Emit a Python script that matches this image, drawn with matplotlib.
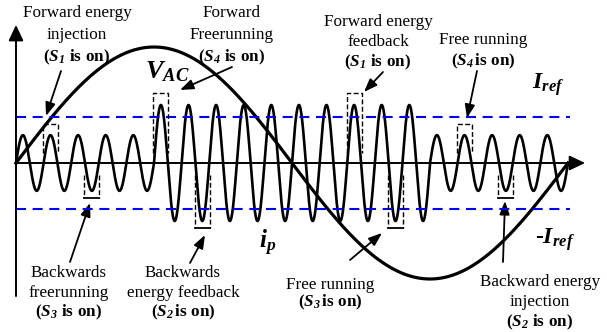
import numpy as np
import matplotlib
matplotlib.use('Agg')
import matplotlib.pyplot as plt
import matplotlib.transforms as mtransforms

plt.rcParams['mathtext.fontset'] = 'custom'
plt.rcParams['mathtext.rm'] = 'Liberation Serif:bold'
plt.rcParams['mathtext.bf'] = 'Liberation Serif:bold'
plt.rcParams['mathtext.it'] = 'Liberation Serif:italic:bold'
plt.rcParams['mathtext.bfit'] = 'Liberation Serif:italic:bold'

# Forma de onda: un periodo de red, pico de VAC = 1
vac_amp = 1.0
ip_cycles = 20            # ciclos de ip por periodo de red
ip_amp_small = 0.24
ip_amp_large = 0.50
large_window = (0.25, 0.75)   # ip grande entre el pico + y el pico - de VAC
iref = 0.40

# picos / valles de ip marcados con corchetes
peak_marks = [1, 5, 12, 16]
trough_marks = [2, 6, 13, 17]


def on_text(n, gap=True):
    sp = r'\ ' if gap else r'\,'
    return r'$\mathbf{(}\mathbfit{S}_{\mathbfit{%d}}%s\mathbf{is\ on}\mathbf{)}$' % (n, sp)


# bloques de texto: x centro (px), y de cada linea (px), lineas (la ultima en negrita)
labels = [
    (77, [13, 35, 57], ['Forward energy', 'injection', on_text(1)]),
    (232, [13, 35, 57], ['Forward', 'Freerunning', on_text(4)]),
    (378, [22, 42, 62], ['Forward energy', 'feedback', on_text(1)]),
    (483, [40, 61], ['Free running', on_text(4, False)]),
    (69, [273, 293, 312], ['Backwards', 'freerunning', on_text(3)]),
    (183, [273, 293, 312], ['Backwards', 'energy feedback', on_text(2, False)]),
    (330, [285, 302], ['Free running', on_text(3, False)]),
    (540, [282, 302, 322], ['Backward energy', 'injection', on_text(2)]),
]

# flechas: (cola, punta) en px
arrows = [((61, 71), (46, 116)), ((232, 67), (180, 90)), ((383, 72), (364, 92)),
          ((477, 71), (467, 118)), ((70, 262), (90, 203)), ((190, 263), (205, 235)),
          ((350, 260), (382, 233)), ((503, 262), (505, 201))]

fig = plt.figure(figsize=(6.07, 3.32), dpi=100)
ax = fig.add_axes([0, 0, 1, 1])
ax.axis('off')
ax.set_xlim(-16 / 552, (607 - 16) / 552)
ax.set_ylim(-(332 - 163) / 116, 163 / 116)

# coordenadas en pixeles de la imagen (origen arriba a la izquierda)
px = mtransforms.Affine2D().scale(1 / 607, -1 / 332).translate(0, 1) + fig.transFigure

t = np.linspace(0, 1, 6000)
vac = vac_amp * np.sin(2 * np.pi * t)
amp = np.where((t >= large_window[0]) & (t < large_window[1]), ip_amp_large, ip_amp_small)
ip = amp * np.sin(2 * np.pi * ip_cycles * t)

ax.plot(t, ip, color='k', lw=1.9, zorder=3)
ax.plot(t, vac, color='k', lw=2.3, zorder=4)

for level in [iref, -iref]:
    ax.plot([0, 1.004], [level, level], color='#0000ff', lw=1.5, dashes=(4.8, 3.2), zorder=5)

# corchetes
hw = 7.5 / 552
for k in peak_marks:
    tc = (k + 0.25) / ip_cycles
    a = ip_amp_large if large_window[0] <= tc < large_window[1] else ip_amp_small
    top = a + 0.1
    ax.plot([tc - hw, tc - hw, tc + hw, tc + hw], [0.09, top, top, 0.09],
            color='k', lw=1.0, dashes=(3.5, 1.8), zorder=6)
for k in trough_marks:
    tc = (k + 0.75) / ip_cycles
    a = ip_amp_large if large_window[0] <= tc < large_window[1] else ip_amp_small
    bot = -a - 0.06
    for xs in [tc - hw, tc + hw]:
        ax.plot([xs, xs], [-0.1, bot], color='k', lw=1.0, dashes=(3.5, 1.8), zorder=6)
    ax.plot([tc - hw, tc + hw], [bot, bot], color='k', lw=1.3, zorder=6)

# ejes con flecha
ax_style = dict(arrowstyle='-|>,head_length=0.95,head_width=0.45', lw=1.4, color='k',
                shrinkA=0, shrinkB=0)
ax.annotate('', xy=(1.031, 0), xytext=(0, 0), arrowprops=ax_style, zorder=7)
ax.annotate('', xy=(0, 1.19), xytext=(0, -1.147), arrowprops=ax_style, zorder=7)

# flechas de las etiquetas
arr_style = dict(arrowstyle='-|>,head_length=0.8,head_width=0.3', lw=1.3, color='k',
                 shrinkA=0, shrinkB=0)
for tail, head in arrows:
    ax.annotate('', xy=head, xycoords=px, xytext=tail, textcoords=px, arrowprops=arr_style)

for xc, ys, lines in labels:
    for y, s in zip(ys, lines):
        ax.text(xc, y, s, transform=px, ha='center', va='center',
                family='Liberation Serif', fontsize=12.3)

ax.text(167, 71, r'$\mathbfit{V}_{\mathbfit{AC}}$', transform=px, ha='center', va='center', fontsize=19)
ax.text(548, 85, r'$\mathbfit{I}_{\mathbfit{ref}}$', transform=px, ha='center', va='center', fontsize=17)
ax.text(555, 240, r'-$\mathbfit{I}_{\mathbfit{ref}}$', transform=px, ha='center', va='center',
        fontsize=17, family='Liberation Serif', weight='bold')
ax.text(268, 243, r'$\mathbfit{i}_{\mathbfit{p}}$', transform=px, ha='center', va='center', fontsize=18)

fig.savefig('out.png', dpi=100)
